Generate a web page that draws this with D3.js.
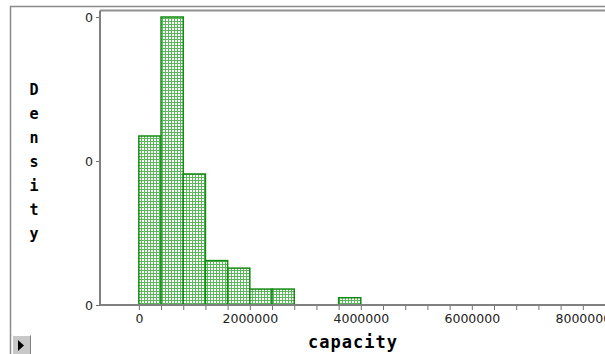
<!DOCTYPE html>
<html>
<head>
<meta charset="utf-8">
<script src="https://cdn.jsdelivr.net/npm/d3@7"></script>
<style>
  body { margin: 0; background: #fff; }
  svg { display: block; }
</style>
</head>
<body>
<script>
// histogram bins (capacity), width 400000
const binStarts = [0, 400000, 800000, 1200000, 1600000, 2000000, 2400000, 2800000, 3200000, 3600000];
const binWidth = 400000;
// density per bin
const densities = [0.605e-6, 1.031e-6, 0.469e-6, 0.159e-6, 0.132e-6, 0.057e-6, 0.057e-6, 0, 0, 0.026e-6];
const xLabelTicks = [0, 2000000, 4000000, 6000000, 8000000];
const yLabel = "Density";
const xLabel = "capacity";

const W = 605, H = 354;
const svg = d3.select("body").append("svg")
    .attr("width", W)
    .attr("height", H);

const defs = svg.append("defs");
const pat = defs.append("pattern")
    .attr("id", "dots")
    .attr("patternUnits", "userSpaceOnUse")
    .attr("width", 3)
    .attr("height", 3);
pat.append("rect").attr("width", 3).attr("height", 3).attr("fill", "#5cb65c");
pat.append("rect").attr("x", 1).attr("y", 1).attr("width", 2).attr("height", 2).attr("fill", "#fff");

const plotLeft = 100, plotBottom = 305, plotTop = 17;

const x = d3.scaleLinear()
    .domain([-700000, 8400000])
    .range([plotLeft, W]);

const maxD = d3.max(densities);
const y = d3.scaleLinear()
    .domain([0, maxD])
    .range([plotBottom, plotTop]);

// outer frame
svg.append("path")
    .attr("d", `M10.5,${H} V6.5 H${W}`)
    .attr("fill", "none")
    .attr("stroke", "#8a8a8a")
    .attr("stroke-width", 1.5);

// plot frame top
svg.append("line")
    .attr("x1", plotLeft).attr("x2", W)
    .attr("y1", 10.5).attr("y2", 10.5)
    .attr("stroke", "#8f8f8f")
    .attr("stroke-width", 2);

// bars
svg.append("g").selectAll("rect")
    .data(binStarts.map((s, i) => ({ s, d: densities[i] })).filter(b => b.d > 0))
    .join("rect")
    .attr("x", b => x(b.s))
    .attr("width", b => x(b.s + binWidth) - x(b.s))
    .attr("y", b => y(b.d))
    .attr("height", b => y(0) - y(b.d))
    .attr("fill", "url(#dots)")
    .attr("stroke", "#138a13")
    .attr("stroke-width", 1.5);

// x axis
const xTicks = d3.range(0, 8400001, binWidth);
const xAxis = d3.axisBottom(x)
    .tickValues(xTicks)
    .tickSizeOuter(0)
    .tickSize(5)
    .tickPadding(4)
    .tickFormat(d => xLabelTicks.includes(d) ? d3.format("d")(d) : "");
const gx = svg.append("g")
    .attr("transform", `translate(0,${plotBottom})`)
    .call(xAxis);
gx.select(".domain").remove();
gx.append("line")
    .attr("x1", plotLeft).attr("x2", W)
    .attr("stroke", "#808080")
    .attr("stroke-width", 2);
gx.selectAll(".tick line").attr("stroke", "#707070");
gx.selectAll("text")
    .attr("fill", "#222")
    .style("font-family", "DejaVu Sans")
    .style("font-size", "12.5px");

// y axis
const yAxis = d3.axisLeft(y)
    .tickValues([0, maxD / 2, maxD])
    .tickSizeOuter(0)
    .tickSize(4)
    .tickPadding(3)
    .tickFormat(d3.format(".0f"));
const gy = svg.append("g")
    .attr("transform", `translate(${plotLeft},0)`)
    .call(yAxis);
gy.select(".domain").remove();
gy.append("line")
    .attr("y1", 10.5).attr("y2", plotBottom)
    .attr("stroke", "#808080")
    .attr("stroke-width", 2);
gy.selectAll(".tick line").attr("stroke", "#707070");
gy.selectAll("text")
    .attr("fill", "#222")
    .style("font-family", "DejaVu Sans")
    .style("font-size", "12.5px");

// y label, letters stacked
svg.append("g").selectAll("text")
    .data(yLabel.split(""))
    .join("text")
    .attr("x", 34)
    .attr("y", (c, i) => 95 + i * 24)
    .attr("text-anchor", "middle")
    .style("font-family", "DejaVu Sans Mono")
    .style("font-weight", "bold")
    .style("font-size", "15px")
    .text(c => c);

// x label
svg.append("text")
    .attr("x", 353)
    .attr("y", 348)
    .attr("text-anchor", "middle")
    .style("font-family", "DejaVu Sans Mono")
    .style("font-weight", "bold")
    .style("font-size", "17px")
    .style("letter-spacing", "1px")
    .text(xLabel);

// small play button
const btn = svg.append("g").attr("transform", "translate(12,335)");
btn.append("rect").attr("width", 19).attr("height", 19).attr("fill", "#c8c8c8");
btn.append("path").attr("d", "M0.5,19 V0.5 H18.5").attr("fill", "none").attr("stroke", "#fff");
btn.append("path").attr("d", "M18.5,0.5 V19").attr("fill", "none").attr("stroke", "#808080");
btn.append("path").attr("d", "M6,5 L12,10.5 L6,16 Z").attr("fill", "#000");
</script>
</body>
</html>
